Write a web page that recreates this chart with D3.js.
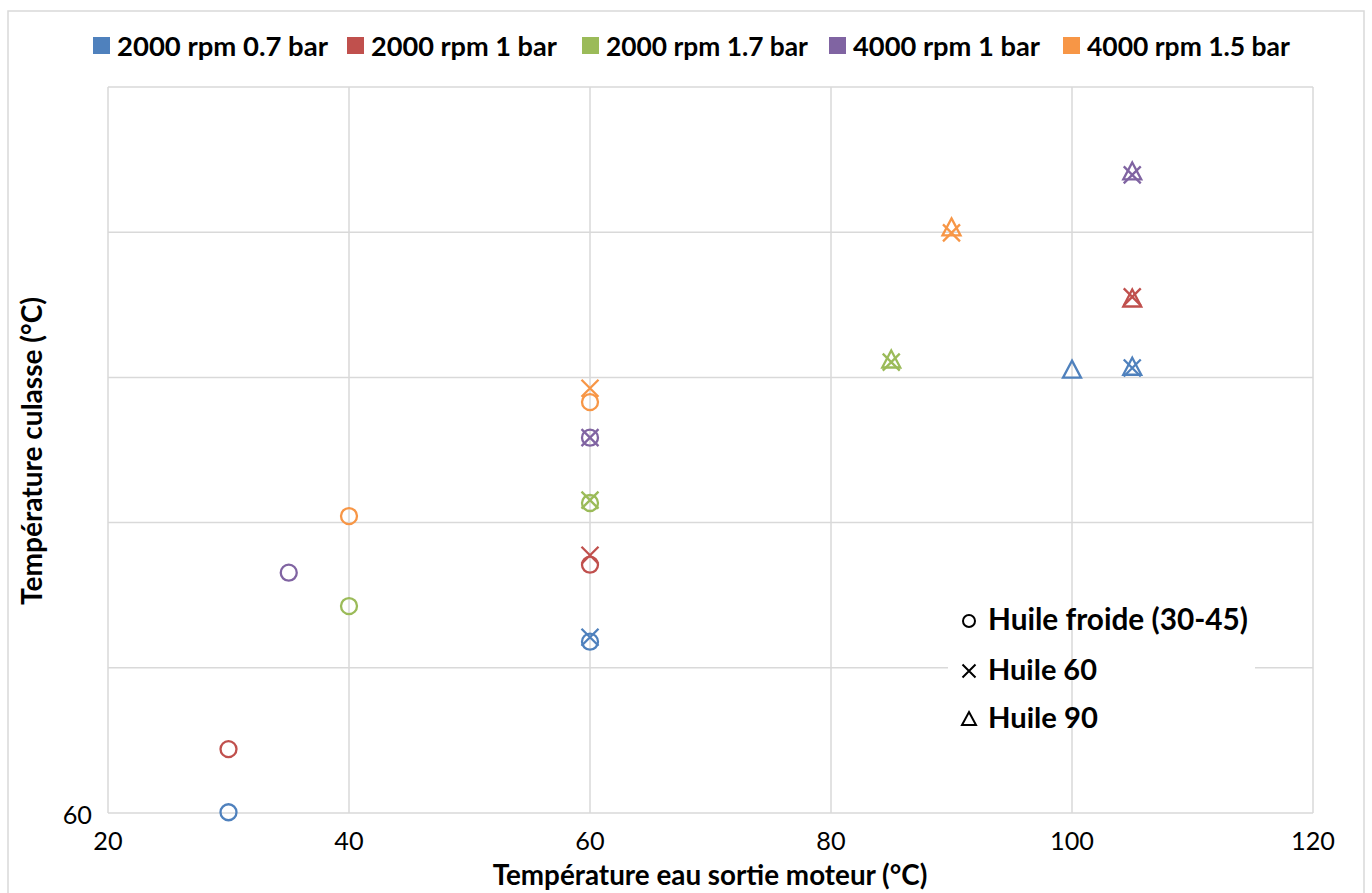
<!DOCTYPE html>
<html><head><meta charset="utf-8">
<script src="https://cdn.jsdelivr.net/npm/d3@7"></script>
<style>body{margin:0;background:#fff}svg{display:block}text{font-family:Lato,"Open Sans",sans-serif}</style>
</head><body>
<svg id="c" width="1372" height="893"></svg>
<script>
const seriesNames = ["2000 rpm 0.7 bar","2000 rpm 1 bar","2000 rpm 1.7 bar","4000 rpm 1 bar","4000 rpm 1.5 bar"];
const seriesColors = ["#4F81BD","#C0504D","#9BBB59","#8064A2","#F79646"];
const xTicks = [20,40,60,80,100,120];
const yTicks = [60,80,100,120,140,160];
const yTickLabels = ["60","","","","",""];
// Huile froide (circle)
const huileFroide = [
  {s:0,x:30,y:60.1},{s:0,x:60,y:83.6},
  {s:1,x:30,y:68.8},{s:1,x:60,y:94.2},
  {s:2,x:40,y:88.5},{s:2,x:60,y:102.7},
  {s:3,x:35,y:93.1},{s:3,x:60,y:111.7},
  {s:4,x:40,y:100.9},{s:4,x:60,y:116.6}
];
// Huile 60 (cross)
const huile60 = [
  {s:0,x:60,y:84.2},{s:0,x:105,y:121.3},
  {s:1,x:60,y:95.5},{s:1,x:105,y:131.1},
  {s:2,x:60,y:103.1},{s:2,x:85,y:122.1},
  {s:3,x:60,y:111.7},{s:3,x:105,y:147.9},
  {s:4,x:60,y:118.5},{s:4,x:90,y:139.9}
];
// Huile 90 (triangle)
const huile90 = [
  {s:0,x:100,y:121.0},{s:0,x:105,y:121.4},
  {s:1,x:105,y:130.8},
  {s:2,x:85,y:122.4},
  {s:3,x:105,y:148.3},
  {s:4,x:90,y:140.6}
];
const markerLegend = ["Huile froide (30-45)","Huile 60","Huile 90"];

const svg = d3.select("#c");
const x = d3.scaleLinear().domain([20,120]).range([108,1313]);
const y = d3.scaleLinear().domain([60,160]).range([813,87]);

function fit(t, w){
  const fs = parseFloat(t.attr("font-size"));
  const cw = t.node().getComputedTextLength();
  if (cw>0) t.attr("font-size", fs*w/cw);
  return t;
}

// outer border
svg.append("rect").attr("x",8).attr("y",11).attr("width",1356).attr("height",900)
  .attr("fill","none").attr("stroke","#d9d9d9").attr("stroke-width",1.5);

// horizontal gridlines
svg.append("g").selectAll("line").data(yTicks).join("line")
  .attr("x1",x(20)).attr("x2",x(120)).attr("y1",d=>y(d)).attr("y2",d=>y(d))
  .attr("stroke","#d9d9d9").attr("stroke-width",1.5);

// white box behind marker legend (hides horizontal grid)
svg.append("rect").attr("x",948).attr("y",595).attr("width",307).attr("height",150).attr("fill","#fff");

// vertical gridlines
svg.append("g").selectAll("line").data(xTicks).join("line")
  .attr("x1",d=>x(d)).attr("x2",d=>x(d)).attr("y1",y(60)).attr("y2",y(160))
  .attr("stroke","#d9d9d9").attr("stroke-width",1.5);

// x tick labels
const xt = svg.append("g").selectAll("text").data(xTicks).join("text")
  .attr("x",d=>x(d)).attr("y",850).attr("text-anchor","middle")
  .attr("font-size",26).attr("fill","#000").text(d=>d);
let xfs = 26;
xt.each(function(d){ if(d===120){ fit(d3.select(this),44); xfs = d3.select(this).attr("font-size"); } });
xt.attr("font-size", xfs);

// y tick labels
svg.append("g").selectAll("text").data(yTicks).join("text")
  .attr("x",92).attr("y",d=>y(d)+11).attr("text-anchor","end")
  .attr("font-size",xfs).attr("fill","#000").text((d,i)=>yTickLabels[i]);

// axis titles
fit(svg.append("text").attr("x",710).attr("y",885).attr("text-anchor","middle")
  .attr("font-size",24).attr("font-weight","bold").text("Température eau sortie moteur (°C)"),435);
fit(svg.append("text").attr("transform","translate(42,451) rotate(-90)").attr("text-anchor","middle")
  .attr("font-size",24).attr("font-weight","bold").text("Température culasse (°C)"),308);

// markers
const sw = 2.3;
const g = svg.append("g");
g.selectAll("circle.m").data(huileFroide).join("circle").attr("class","m")
  .attr("cx",d=>x(d.x)).attr("cy",d=>y(d.y)).attr("r",8)
  .attr("fill","none").attr("stroke",d=>seriesColors[d.s]).attr("stroke-width",sw);
g.selectAll("path.x").data(huile60).join("path").attr("class","x")
  .attr("transform",d=>`translate(${x(d.x)},${y(d.y)})`)
  .attr("d", "M-8.5,-8.5L8.5,8.5M-8.5,8.5L8.5,-8.5")
  .attr("fill","none").attr("stroke",d=>seriesColors[d.s]).attr("stroke-width",sw);
g.selectAll("path.t").data(huile90).join("path").attr("class","t")
  .attr("transform",d=>`translate(${x(d.x)},${y(d.y)})`)
  .attr("d", "M0,-9.5L9,7.5L-9,7.5Z")
  .attr("fill","none").attr("stroke",d=>seriesColors[d.s]).attr("stroke-width",sw);

// top legend
const legSq = [93,347,582,829,1063];
const legW = [211,186,202,187,203];
const lg = svg.append("g");
seriesNames.forEach((n,i)=>{
  lg.append("rect").attr("x",legSq[i]).attr("y",37).attr("width",17).attr("height",17).attr("fill",seriesColors[i]);
  fit(lg.append("text").attr("x",legSq[i]+24).attr("y",56).attr("font-size",24)
    .attr("font-weight","bold").attr("fill","#000").text(n), legW[i]);
});

// marker legend
const mlY = [621,671,719];
const mlW = [260,109,110];
const ml = svg.append("g");
ml.append("circle").attr("cx",969).attr("cy",mlY[0]).attr("r",6).attr("fill","none").attr("stroke","#000").attr("stroke-width",2);
ml.append("path").attr("transform",`translate(969,${mlY[1]})`).attr("d","M-6.5,-6.5L6.5,6.5M-6.5,6.5L6.5,-6.5").attr("fill","none").attr("stroke","#000").attr("stroke-width",2);
ml.append("path").attr("transform",`translate(969,${mlY[2]})`).attr("d","M0,-7L7,6L-7,6Z").attr("fill","none").attr("stroke","#000").attr("stroke-width",2);
markerLegend.forEach((t,i)=>{
  fit(ml.append("text").attr("x",988).attr("y",mlY[i]+9).attr("font-size",24)
    .attr("font-weight","bold").attr("fill","#000").text(t), mlW[i]);
});
</script>
</body></html>
